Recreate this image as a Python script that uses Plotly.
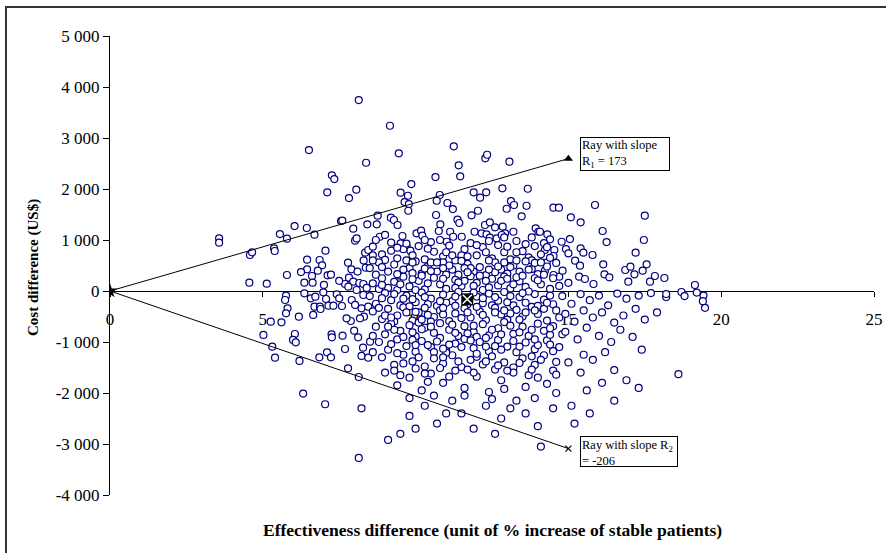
import plotly.graph_objects as go

# ---------------- data (effectiveness difference, cost difference) ----------------
upper_left_pts = [(8.14,3744),(6.51,2764),(8.38,2515),(7.26,2268),(7.34,2195),(7.11,1934),(8.06,1986),(7.82,1823),
    (7.56,1372),(7.60,1380),(8.42,1307),(6.04,1274),(6.44,1235),(5.56,1117),(6.69,1104),(7.96,1222),(5.79,1026),
    (3.57,1032),(3.57,947),(8.02,986),(8.07,1030),(4.58,706),(4.65,758),(5.37,837),(5.39,784),(7.05,790),(6.45,614),
    (6.86,608),(6.94,503),(6.80,398),(6.45,425),(6.25,372),(5.79,314),(6.61,294),(7.12,307),(7.23,320),(7.79,555),
    (7.90,425),(7.82,261),(8.35,751),(8.45,804),(8.37,457),(4.56,163),(5.13,143),(6.36,163),(6.63,163),(7.69,137),
    (7.96,182),(8.16,157),(8.29,137),(8.3,600),(8.1,380),(7.5,200),(7.0,120),(8.4,60)]

upper_mid_pts = [(9.16,3240),(9.45,2699),(11.25,2836),(11.41,2464),(11.46,2248),(10.65,2234),(12.28,2601),(12.34,2672),
    (13.07,2535),(9.86,2097),(9.51,1927),(9.75,1868),(9.64,1744),(9.78,1705),(9.76,1574),(10.79,1882),(10.69,1770),
    (11.04,1725),(11.22,1607),(11.90,1934),(12.11,1829),(12.31,1934),(12.84,2013),(13.67,2005),(13.12,1764),(13.22,1686),
    (12.98,1613),(13.63,1672),(13.47,1464),(11.83,1483),(12.04,1574),(10.67,1490),(10.81,1307),(10.76,1176),(11.37,1398),
    (11.43,1333),(8.76,1477),(8.73,1307),(9.19,1437),(9.29,1392),(9.41,1294),(10.03,1131),(10.18,1182),(10.22,1084),
    (8.83,1064),(9.57,1078),(9.51,935),(9.71,868),(9.83,790),(11.93,1162),(12.27,1294),(12.43,1346),(12.60,1248),
    (12.85,1261),(12.93,1131),(13.20,1162),(13.93,1229),(14.02,1162),(12.16,1131),(12.32,1111),(12.43,1045),(12.65,1033),
    (12.82,1098),(11.13,1162),(11.23,1064),(11.51,1064),(11.02,966)]

upper_right_pts = [(14.51,1633),(14.69,1633),(15.87,1686),(15.08,1445),(15.40,1346),(17.50,1477),(16.12,1176),(16.25,960),
    (17.47,1000),(17.20,751),(17.56,523),(15.05,1019),(14.78,966),(14.92,823),(15.00,738),(15.40,837),(15.49,751),
    (15.79,706),(15.22,594),(15.38,496),(16.14,523),(14.07,1162),(14.31,1111),(14.40,1013),(14.23,804),(14.54,804),
    (14.51,686),(14.29,555),(16.18,327),(16.34,268),(16.86,412),(17.03,477),(17.16,327),(17.43,398),(17.83,294),
    (18.14,255),(16.96,182),(19.14,118),(17.67,182),(14.70,281),(14.81,398),(15.35,281),(15.54,235),(15.82,137),
    (14.23,398),(14.51,314),(19.42,-90),(19.47,-330),(18.7,-20),(18.2,-120)]

lower_left_pts = [(5.76,-92),(5.73,-176),(6.36,-46),(5.81,-340),(5.76,-438),(5.26,-601),(5.61,-614),(6.18,-503),
    (5.02,-862),(5.31,-1091),(5.40,-1307),(6.05,-843),(5.99,-960),(6.08,-1006),(6.20,-1372),(6.32,-2012),(7.04,-2221),
    (6.85,-1300),(7.10,-1202),(7.23,-1300),(7.25,-849),(7.26,-908),(7.61,-876),(7.69,-1137),(7.79,-1516),(8.14,-1686),
    (8.23,-2300),(8.14,-3273),(8.28,-1111),(8.23,-1274),(8.45,-1307),(7.99,-778),(8.12,-908),(7.88,-588),(8.51,-993),
    (7.74,-536),(7.91,-176),(7.59,-294),(6.65,-470),(6.69,-307),(6.87,-307),(6.89,-353),(6.57,-144),(6.72,-111),
    (6.98,-26),(7.07,-157),(7.15,-288),(7.31,-288),(7.42,-65),(7.50,-144),(7.80,85),(8.07,20),(8.29,-78),(8.02,-274),
    (8.23,-340),(8.31,-503),(8.18,-536),(8.45,-307)]

core_upper_pts = [(8.6,870),(8.9,720),(9.2,950),(9.4,640),(9.9,700),(10.1,880),(10.3,620),(10.5,960),(10.6,770),(10.9,680),
    (11.1,890),(11.3,600),(11.6,820),(11.8,940),(12.0,700),(12.2,860),(12.5,640),(12.7,900),(12.9,760),(13.1,620),
    (13.3,980),(13.5,780),(13.7,660),(13.9,880),(14.1,720),(9.0,610),(9.6,820),(10.8,1000),(11.5,700),(12.4,980),
    (13.0,870),(13.8,600),
    (8.5,450),(8.8,560),(9.1,380),(9.3,520),(9.5,300),(9.8,450),(10.0,580),(10.2,340),(10.4,480),(10.7,380),(10.9,560),
    (11.2,420),(11.4,320),(11.7,530),(11.9,380),(12.1,470),(12.3,310),(12.6,560),(12.8,420),(13.0,340),(13.2,500),
    (13.4,380),(13.6,580),(13.8,430),(14.0,330),(14.3,480),(9.7,600),(10.5,560),(11.0,320),(12.4,600),(13.1,470),
    (8.7,320),(9.9,350),(11.5,590),
    (8.6,150),(8.9,250),(9.1,60),(9.3,180),(9.6,280),(9.8,90),(10.1,200),(10.3,30),(10.6,260),(10.8,130),(11.0,40),
    (11.3,220),(11.5,100),(11.8,290),(12.0,160),(12.2,20),(12.5,240),(12.7,110),(12.9,280),(13.1,50),(13.4,190),
    (13.6,80),(13.9,250),(14.1,130),(14.4,40),(9.4,20),(10.4,150),(11.6,200),(12.4,70),(13.3,270),(14.0,210),
    (8.7,1000),(9.2,790),(9.7,930),(10.4,830),(11.0,760),(11.7,680),(12.3,760),(12.9,1050),(13.6,920),(14.2,940),
    (14.4,650),(8.9,470),(9.6,420),(10.3,440),(11.1,500),(11.8,450),(12.6,370),(13.3,600),(13.9,550),(14.5,250),
    (8.8,40),(9.5,130),(10.2,300),(10.9,240),(11.4,170),(12.1,300),(12.8,200),(13.5,300),(14.2,320),(14.7,100),
    (8.6,700),(9.0,1100),(9.4,850),(9.9,560),(10.3,1000),(10.7,560),(11.2,700),(11.6,450),(12.0,900),(12.4,420),
    (12.9,560),(13.3,760),(13.8,1050),(14.3,860),(8.9,120),(9.4,330),(9.9,230),(10.5,390),(10.9,450),(11.3,60),
    (11.7,370),(12.3,200),(12.7,480),(13.2,130),(13.7,420),(14.1,560),(14.6,550),(15.0,160),(8.6,600),(10.0,20),
    (11.9,100),(13.0,240)]

core_lower_pts = [(8.5,-100),(8.7,-250),(9.0,-40),(9.2,-180),(9.5,-280),(9.7,-90),(10.0,-220),(10.2,-30),(10.5,-150),
    (10.7,-290),(10.9,-70),(11.2,-200),(11.4,-20),(11.7,-260),(12.0,-110),(12.2,-240),(12.4,-50),(12.7,-190),(12.9,-20),
    (13.2,-280),(13.4,-120),(13.6,-230),(13.9,-60),(14.2,-170),(14.5,-260),(9.9,-160),(11.0,-230),(12.5,-280),(13.7,-10),
    (10.4,-260),
    (8.6,-400),(8.9,-550),(9.1,-350),(9.4,-480),(9.6,-320),(9.9,-580),(10.1,-420),(10.3,-330),(10.6,-510),(10.8,-380),
    (11.1,-590),(11.3,-440),(11.6,-340),(11.8,-520),(12.1,-400),(12.3,-570),(12.6,-330),(12.8,-460),(13.0,-560),
    (13.3,-370),(13.5,-500),(13.8,-310),(14.0,-450),(14.3,-580),(14.6,-380),(10.5,-600),(12.0,-310),(13.1,-440),(9.3,-600),
    (8.7,-700),(9.0,-850),(9.2,-640),(9.5,-780),(9.8,-670),(10.0,-890),(10.3,-720),(10.6,-820),(10.8,-630),(11.1,-760),
    (11.4,-880),(11.6,-690),(11.9,-800),(12.2,-650),(12.4,-870),(12.7,-730),(12.9,-610),(13.2,-840),(13.5,-700),
    (13.7,-880),(14.0,-640),(14.2,-780),(14.5,-690),(14.8,-850),(10.1,-620),(12.0,-900),
    (8.8,-1000),(9.1,-1150),(9.4,-950),(9.7,-1080),(10.0,-1190),(10.2,-980),(10.5,-1100),(10.8,-920),(11.0,-1170),
    (11.3,-1030),(11.6,-940),(11.9,-1120),(12.1,-1000),(12.4,-1180),(12.7,-960),(13.0,-1090),(13.3,-1200),(13.6,-1010),
    (13.9,-1140),(14.3,-970),(14.7,-1100),(10.6,-1200),(12.8,-1150),
    (8.9,-1300),(9.3,-1450),(9.6,-1250),(9.9,-1380),(10.3,-1480),(10.6,-1320),(10.9,-1420),(11.2,-1260),(11.5,-1490),
    (11.8,-1350),(12.2,-1440),(12.5,-1280),(12.9,-1400),(13.2,-1500),(13.5,-1320),(13.9,-1450),(14.2,-1260),(14.6,-1390),
    (11.0,-1210),
    (9.0,-1600),(9.4,-1850),(9.8,-1700),(10.2,-1950),(10.5,-1620),(10.9,-1800),(11.3,-1560),(11.6,-1900),(12.0,-1680),
    (12.4,-1980),(12.8,-1750),(13.2,-1600),(13.6,-1880),(14.0,-1700),(14.5,-1560),(10.0,-1520),(12.6,-1540),
    (9.1,-2920),(9.5,-2800),(9.8,-2450),(10.3,-2250),(10.7,-2600),(11.2,-2150),(11.5,-2400),(11.9,-2700),(12.3,-2250),
    (12.8,-2500),(13.3,-2150),(13.6,-2400),(14.0,-2650),(14.1,-3050),(14.5,-2300),
    (8.9,-140),(9.3,-60),(9.8,-300),(10.3,-120),(10.8,-200),(11.3,-110),(11.9,-30),(12.6,-120),(13.0,-220),(13.5,-40),
    (14.0,-290),(14.4,-90),(9.0,-480),(9.7,-420),(10.2,-560),(10.9,-460),(11.5,-530),(12.2,-470),(12.9,-380),(13.6,-420),
    (14.2,-350),(9.3,-760),(9.9,-810),(10.5,-700),(11.2,-660),(11.7,-830),(12.5,-760),(13.1,-680),(13.8,-760),(14.4,-860),
    (9.2,-1040),(9.9,-960),(10.4,-1060),(11.1,-1050),(11.8,-970),(12.3,-1090),(13.2,-980),(14.0,-1060),(14.5,-1180),
    (9.6,-1420),(10.1,-1300),(10.8,-1510),(11.4,-1380),(12.0,-1290),(12.7,-1460),(13.4,-1410),(14.1,-1350),
    (9.5,-1650),(10.4,-1780),(11.1,-1680),(11.9,-1600),(12.9,-1920),(13.7,-1650),(14.3,-1820),
    (8.8,-330),(9.2,-520),(9.6,-150),(10.0,-410),(10.4,-470),(10.9,-330),(11.3,-290),(11.7,-420),(12.2,-140),(12.6,-420),
    (13.1,-100),(13.4,-560),(13.9,-380),(14.3,-230),(14.7,-520),(8.6,-880),(9.1,-700),(9.6,-900),(10.2,-750),(10.7,-990),
    (11.3,-820),(11.9,-680),(12.3,-920),(12.8,-850),(13.4,-810),(13.9,-950),(14.4,-730),(8.6,-1200),(9.4,-1220),
    (10.0,-1060),(10.9,-1130),(11.5,-1100),(12.0,-1230),(12.6,-1080),(13.4,-1090),(13.8,-1280),(14.4,-1050),(9.3,-1560),
    (10.3,-1620),(10.9,-1300),(11.7,-1540),(12.3,-1380),(13.0,-1560),(13.8,-1540),(14.6,-1640),(9.8,-2100),(10.6,-2050),
    (11.6,-2050),(12.5,-2120),(13.1,-2300),(13.9,-2100),(14.6,-2000),(10.0,-2700),(12.6,-2800),(11.0,-2400)]

lower_right_pts = [(14.8,-100),(15.1,-250),(15.4,-60),(15.7,-180),(16.0,-90),(16.3,-280),(16.6,-50),(16.9,-150),
    (17.3,-90),(17.7,-40),(18.2,-60),(18.8,-100),(19.2,-30),(19.4,-200),
    (14.9,-450),(15.2,-600),(15.5,-380),(15.8,-520),(16.1,-420),(16.5,-620),(16.8,-480),(17.2,-350),(17.5,-560),(17.9,-420),
    (14.9,-800),(15.3,-950),(15.6,-720),(16.0,-880),(16.4,-1000),(16.7,-760),(17.1,-900),(17.4,-1150),(16.2,-1200),
    (15.5,-1250),(15.0,-1400),(15.4,-1600),(15.8,-1350),(16.1,-1800),(16.5,-1550),(16.9,-1750),(17.3,-1900),(18.6,-1630),
    (15.6,-1950),(15.1,-2250),(15.7,-2400),(16.5,-2150),(15.2,-2600)]

all_pts = upper_left_pts + upper_mid_pts + upper_right_pts + lower_left_pts + core_upper_pts + core_lower_pts + lower_right_pts
eff_diff = [p[0] for p in all_pts]
cost_diff = [p[1] for p in all_pts]

mean_point = (11.69, -163)
ray_end_x = 15
slope_r1 = 173
slope_r2 = -206

y_tick_vals = [5000, 4000, 3000, 2000, 1000, 0, -1000, -2000, -3000, -4000]
y_tick_text = ["5 000", "4 000", "3 000", "2 000", "1 000", "0", "-1 000", "-2 000", "-3 000", "-4 000"]
x_tick_vals = [0, 5, 10, 15, 20, 25]

FONT = "Liberation Serif"
NAVY = "#000080"

fig = go.Figure()
fig.add_trace(go.Scatter(x=eff_diff, y=cost_diff, mode="markers",
                         marker=dict(symbol="circle", size=7, color="white",
                                     line=dict(color=NAVY, width=1.2)),
                         hoverinfo="skip"))
# rays
fig.add_trace(go.Scatter(x=[0, ray_end_x], y=[0, slope_r1 * ray_end_x], mode="lines",
                         line=dict(color="black", width=1)))
fig.add_trace(go.Scatter(x=[0, ray_end_x], y=[0, slope_r2 * ray_end_x], mode="lines",
                         line=dict(color="black", width=1)))
fig.add_trace(go.Scatter(x=[ray_end_x], y=[slope_r1 * ray_end_x], mode="markers",
                         marker=dict(symbol="triangle-up", size=8, color="black")))
fig.add_trace(go.Scatter(x=[ray_end_x], y=[slope_r2 * ray_end_x], mode="markers",
                         marker=dict(symbol="x-thin", size=6, color="black",
                                     line=dict(color="black", width=1.2))))
# origin star
fig.add_trace(go.Scatter(x=[0], y=[0], mode="markers",
                         marker=dict(symbol="star", size=11, color="black")))
# mean point
fig.add_trace(go.Scatter(x=[mean_point[0]], y=[mean_point[1]], mode="markers",
                         marker=dict(symbol="square", size=12, color="black")))
fig.add_trace(go.Scatter(x=[mean_point[0]], y=[mean_point[1]], mode="markers",
                         marker=dict(symbol="x-thin", size=9, color="white",
                                     line=dict(color="white", width=1.5))))

fig.update_layout(
    template="none",
    width=886, height=553,
    margin=dict(l=110, r=12, t=36, b=58, pad=0),
    paper_bgcolor="white", plot_bgcolor="white",
    showlegend=False,
    font=dict(family=FONT, size=17, color="black"),
    xaxis=dict(range=[0, 25], tickvals=x_tick_vals, ticks="outside", ticklen=5, tickcolor="black",
               tickwidth=1, showline=True, linecolor="black", linewidth=1, showgrid=False, zeroline=False,
               anchor="free", position=4000 / 9000, layer="below traces", automargin=False,
               ticklabelstandoff=8, tickfont=dict(family=FONT, size=17)),
    yaxis=dict(range=[-4000, 5000], tickvals=y_tick_vals, ticktext=y_tick_text, ticks="outside",
               ticklen=6, tickwidth=1, tickcolor="black", showline=True, linecolor="black", linewidth=1,
               showgrid=False, zeroline=False, layer="below traces", automargin=False,
               tickfont=dict(family=FONT, size=17)),
    annotations=[
        dict(text="<b>Cost difference (US$)</b>", xref="paper", yref="paper",
             x=(33 - 110) / 764, y=(495 - 268) / 459, textangle=-90, showarrow=False,
             xanchor="center", yanchor="middle", font=dict(family=FONT, size=15)),
        dict(text="<b>Effectiveness difference (unit of % increase of stable patients)</b>",
             xref="paper", yref="paper", x=(492 - 110) / 764, y=(495 - 530) / 459,
             xanchor="center", yanchor="middle", showarrow=False, font=dict(family=FONT, size=17.5)),
        dict(text="Ray with slope<br>R<sub>1</sub> = 173", x=15.38, y=3020, xanchor="left", yanchor="top",
             showarrow=False, align="left", bordercolor="black", borderwidth=1, borderpad=1,
             bgcolor="white", width=86, height=30, font=dict(family=FONT, size=12.5)),
        dict(text="Ray with slope R<sub>2</sub><br>= -206", x=15.38, y=-2842, xanchor="left", yanchor="top",
             showarrow=False, align="left", valign="top", bordercolor="black", borderwidth=1, borderpad=1,
             bgcolor="white", width=94, height=27, font=dict(family=FONT, size=12.5)),
    ],
    shapes=[dict(type="rect", xref="paper", yref="paper",
                 x0=(6 - 110) / 764, x1=(892 - 110) / 764,
                 y0=(495 - 565) / 459, y1=(495 - 7) / 459,
                 line=dict(color="#333333", width=2), layer="below")],
)

fig.write_html("out.html", config={"displayModeBar": False},
               post_script="document.body.style.margin='0';document.body.style.padding='0';")
